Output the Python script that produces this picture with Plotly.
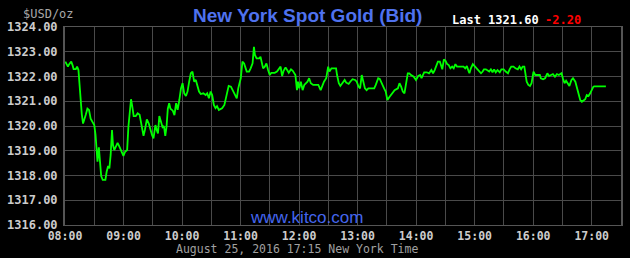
import plotly.graph_objects as go
from datetime import datetime, timedelta

# minutes after 08:00 (New York time), Aug 25 2016
minutes = [0.3, 2.0, 3.0, 4.3, 6.4, 7.8, 8.8, 11.1, 12.4, 13.8, 14.5, 15.2, 15.9, 17.2, 18.5, 19.9,
           21.2, 23.0, 24.6, 26.3, 28.6, 30.0, 31.3, 32.3, 33.3, 34.7, 35.7, 37.1, 38.7, 41.4, 42.7,
           44.2, 45.5, 46.8, 48.2, 49.2, 50.5, 52.2, 53.9, 55.9, 58.3, 59.9, 61.6, 63.7, 65.0, 66.4,
           67.7, 69.0, 70.4, 72.5, 74.5, 76.5, 77.8, 79.1, 80.5, 81.9, 83.9, 85.9, 87.6, 89.2, 90.7,
           92.7, 94.0, 95.3, 96.7, 98.0, 100.0, 101.4, 102.8, 104.1, 105.4, 106.8, 108.1, 110.5,
           112.2, 113.9, 115.5, 117.2, 118.9, 120.5, 122.2, 124.0, 125.6, 127.3, 129.0, 130.7,
           132.4, 134.1, 135.7, 137.4, 139.2, 141.8, 144.2, 145.8, 147.5, 149.3, 150.9, 152.6,
           154.3, 155.9, 157.7, 161.0, 163.4, 165.4, 167.8, 170.1, 172.8, 175.1, 176.1, 177.6,
           178.9, 180.2, 181.9, 183.6, 186.3, 188.7, 190.3, 192.3, 193.7, 194.7, 196.4, 199.1,
           200.4, 201.8, 203.1, 204.8, 206.5, 208.2, 209.9, 211.5, 215.0, 217.3, 219.3, 221.0,
           222.6, 224.1, 226.1, 227.7, 229.4, 231.7, 233.5, 236.2, 237.8, 238.8, 240.2, 241.8,
           243.6, 245.3, 246.9, 248.6, 250.3, 252.0, 254.4, 257.0, 259.7, 262.1, 263.8, 265.5,
           267.8, 269.8, 271.1, 273.2, 275.6, 277.9, 278.9, 280.7, 282.3, 284.0, 286.7, 288.3,
           290.8, 292.4, 294.8, 297.4, 299.1, 300.9, 302.5, 304.2, 305.9, 307.5, 309.2, 311.0,
           314.3, 317.0, 318.6, 321.1, 322.7, 324.4, 327.1, 328.8, 330.5, 332.8, 335.2, 337.9,
           341.3, 342.9, 344.6, 346.3, 348.0, 349.7, 351.4, 353.0, 354.7, 357.5, 359.8, 362.1,
           364.1, 365.5, 368.2, 370.9, 373.2, 375.6, 377.3, 379.0, 380.7, 382.3, 384.3, 385.7,
           386.8, 388.4, 390.1, 391.8, 393.4, 395.1, 396.9, 398.5, 400.2, 401.9, 404.5, 407.0,
           408.6, 410.3, 412.0, 413.6, 414.6, 416.1, 418.1, 420.4, 422.7, 424.8, 426.5, 428.2,
           429.5, 431.5, 432.8, 434.9, 436.6, 438.3, 439.9, 441.6, 443.4, 445.7, 447.4, 449.7,
           451.8, 454.1, 455.8, 457.5, 459.8, 461.8, 464.2, 465.9, 467.6, 469.2, 470.9, 471.9,
           473.3, 475.0, 476.7, 478.3, 479.3, 480.3, 482.1, 484.4, 486.8, 487.8, 490.1, 492.2,
           494.5, 496.2, 497.9, 500.2, 502.3, 504.3, 506.3, 508.0, 509.0, 510.4, 512.1, 513.7,
           515.4, 517.1, 519.2, 520.8, 523.2, 524.8, 526.5, 528.2, 529.9, 531.6, 533.3, 534.9,
           536.7, 538.4, 540.0, 541.7, 542.7, 554.5]

bid = [1322.60, 1322.50, 1322.40, 1322.50, 1322.60, 1322.45, 1322.30, 1322.30, 1322.40, 1322.26,
       1321.90, 1321.52, 1320.92, 1320.48, 1320.10, 1320.24, 1320.44, 1320.70, 1320.65, 1320.30,
       1320.17, 1320.04, 1319.64, 1318.90, 1318.56, 1319.14, 1318.63, 1317.98, 1317.82, 1317.82,
       1318.15, 1318.38, 1318.29, 1318.83, 1319.84, 1319.23, 1319.03, 1319.16, 1319.32, 1319.16,
       1318.96, 1318.79, 1318.96, 1319.03, 1319.97, 1320.58, 1321.08, 1320.78, 1320.40, 1320.40,
       1320.51, 1320.45, 1320.17, 1319.95, 1319.60, 1319.84, 1320.27, 1320.10, 1319.84, 1319.64,
       1319.50, 1320.04, 1319.84, 1319.70, 1320.40, 1320.24, 1319.95, 1320.00, 1319.60, 1319.97,
       1320.70, 1320.92, 1320.70, 1320.62, 1320.44, 1320.92, 1320.65, 1321.05, 1321.52, 1321.73,
       1321.32, 1321.21, 1321.39, 1321.79, 1322.13, 1322.20, 1321.79, 1321.86, 1321.59, 1321.39,
       1321.29, 1321.32, 1321.25, 1321.32, 1321.12, 1321.39, 1321.25, 1320.85, 1320.72, 1320.80,
       1320.65, 1320.72, 1320.85, 1321.25, 1321.62, 1321.59, 1321.39, 1321.18, 1321.12, 1321.52,
       1321.73, 1321.93, 1322.60, 1322.53, 1322.20, 1322.20, 1322.33, 1322.53, 1323.20, 1322.87,
       1322.73, 1322.73, 1322.80, 1322.60, 1322.33, 1322.40, 1322.53, 1322.26, 1322.06, 1322.15,
       1322.15, 1322.20, 1322.33, 1322.40, 1322.02, 1322.23, 1322.37, 1322.26, 1322.15, 1322.29,
       1322.23, 1322.06, 1321.45, 1321.79, 1321.52, 1321.79, 1321.45, 1321.66, 1321.73, 1321.79,
       1321.93, 1321.73, 1321.66, 1321.66, 1321.66, 1321.45, 1321.66, 1321.79, 1321.93, 1322.40,
       1322.20, 1322.33, 1322.33, 1322.33, 1322.06, 1321.73, 1321.62, 1321.73, 1321.86, 1321.75,
       1321.70, 1321.79, 1321.89, 1321.86, 1321.79, 1321.59, 1321.52, 1322.06, 1321.79, 1321.52,
       1321.45, 1321.52, 1321.52, 1321.52, 1321.66, 1321.93, 1321.90, 1321.73, 1321.52, 1321.39,
       1321.05, 1321.18, 1321.32, 1321.45, 1321.52, 1321.73, 1321.59, 1321.39, 1321.32, 1321.66,
       1322.13, 1322.13, 1322.06, 1321.99, 1321.86, 1322.02, 1322.06, 1321.93, 1322.17, 1322.17,
       1322.13, 1322.26, 1322.13, 1322.26, 1322.42, 1322.60, 1322.60, 1322.40, 1322.29, 1322.69,
       1322.63, 1322.50, 1322.46, 1322.33, 1322.40, 1322.33, 1322.50, 1322.40, 1322.40, 1322.37,
       1322.40, 1322.33, 1322.42, 1322.23, 1322.13, 1322.33, 1322.50, 1322.40, 1322.29, 1322.20,
       1322.13, 1322.20, 1322.29, 1322.29, 1322.26, 1322.20, 1322.29, 1322.17, 1322.29, 1322.17,
       1322.26, 1322.17, 1322.29, 1322.29, 1322.20, 1322.13, 1322.29, 1322.40, 1322.40, 1322.33,
       1322.29, 1322.40, 1322.29, 1322.40, 1322.40, 1322.20, 1321.79, 1321.66, 1321.62, 1321.73,
       1321.99, 1322.20, 1322.06, 1322.06, 1322.06, 1321.93, 1321.89, 1321.93, 1322.13, 1322.02,
       1322.06, 1322.10, 1321.99, 1322.10, 1322.06, 1322.13, 1322.13, 1321.93, 1321.73, 1321.83,
       1321.73, 1321.62, 1321.86, 1321.93, 1321.79, 1321.52, 1321.25, 1321.05, 1320.98, 1321.05,
       1321.08, 1321.25, 1321.21, 1321.32, 1321.45, 1321.59, 1321.60, 1321.60]

y_ticks = [1316, 1317, 1318, 1319, 1320, 1321, 1322, 1323, 1324]
x_tick_labels = ["08:00", "09:00", "10:00", "11:00", "12:00", "13:00", "14:00", "15:00", "16:00", "17:00"]

title_text = "New York Spot Gold (Bid)"
last_text = "Last 1321.60"
change_text = "-2.20"
unit_text = "$USD/oz"
site_text = "www.kitco.com"
footer_text = "August 25, 2016 17:15 New York Time"

base = datetime(2016, 8, 25, 8, 0)
times = [base + timedelta(minutes=m) for m in minutes]
tick_vals = [datetime(2016, 8, 25, int(s[:2]), int(s[3:])) for s in x_tick_labels]

GRID = "#4a4a4a"
MONO = "DejaVu Sans Mono"

fig = go.Figure()
fig.add_trace(go.Scatter(x=times, y=bid, mode="lines",
                         line=dict(color="#00ff00", width=1.8), hoverinfo="skip"))

fig.update_layout(
    width=630, height=258,
    margin=dict(l=59, r=7, t=27, b=33),
    paper_bgcolor="#000000", plot_bgcolor="#000000",
    showlegend=False,
    xaxis=dict(
        type="date",
        range=[datetime(2016, 8, 25, 8, 0), datetime(2016, 8, 25, 17, 30)],
        tickvals=tick_vals, ticktext=x_tick_labels,
        showgrid=True, gridcolor=GRID, gridwidth=1,
        minor=dict(dtick=30 * 60 * 1000, showgrid=True, gridcolor=GRID, gridwidth=1),
        showline=True, linecolor="#555555", linewidth=1, mirror=True,
        ticks="", zeroline=False, ticklabelstandoff=0,
        tickfont=dict(family=MONO, size=11.5, color="#cccccc", weight="bold"),
    ),
    yaxis=dict(
        range=[1316, 1324],
        tickvals=y_ticks, tickformat=".2f",
        showgrid=True, gridcolor=GRID, gridwidth=1,
        showline=True, linecolor="#555555", linewidth=2, mirror=True,
        ticks="", zeroline=False, ticklabelstandoff=3,
        tickfont=dict(family=MONO, size=12, color="#cccccc", weight="bold"),
    ),
)

ann = [
    dict(text=title_text, x=0.436, y=1.0606, font=dict(family="Liberation Sans", size=19, color="#4f72ef", weight="bold"), xanchor="center"),
    dict(text=unit_text, x=-0.030, y=1.0657, font=dict(family=MONO, size=12, color="#a8a8a8"), xanchor="center"),
    dict(text=last_text, x=0.6925, y=1.0354, font=dict(family=MONO, size=12, color="#ffffff", weight="bold"), xanchor="left"),
    dict(text=change_text, x=0.8600, y=1.0354, font=dict(family=MONO, size=12, color="#ff0000", weight="bold"), xanchor="left"),
    dict(text=site_text, x=0.4344, y=0.0354, font=dict(family="Liberation Sans", size=17, color="#4466ee"), xanchor="center"),
    dict(text=footer_text, x=0.418, y=-0.122, font=dict(family=MONO, size=11.5, color="#a0a0a0"), xanchor="center"),
]
for a in ann:
    fig.add_annotation(xref="paper", yref="paper", showarrow=False, yanchor="middle", **a)

fig.write_html("out.html")
